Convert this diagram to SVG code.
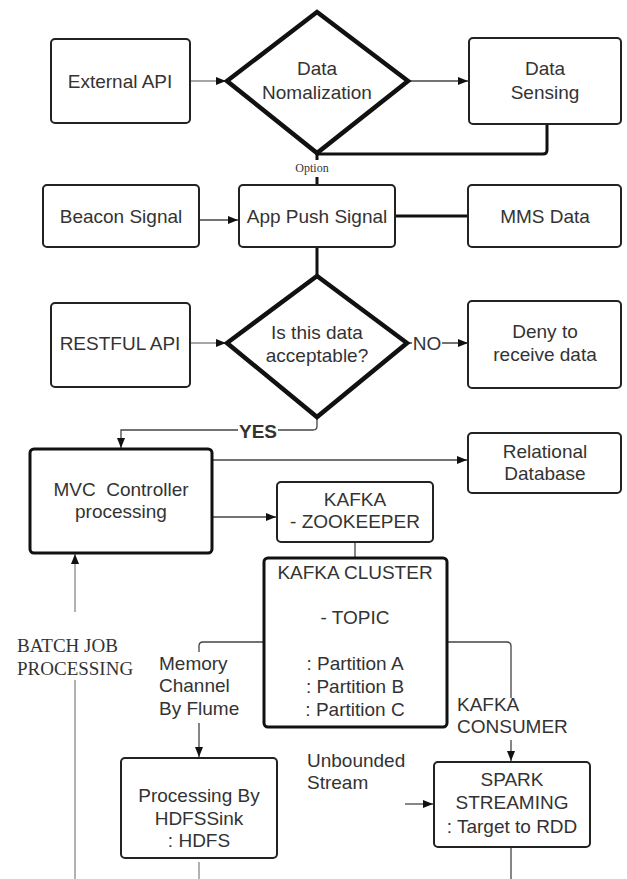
<svg xmlns="http://www.w3.org/2000/svg" width="627" height="879" viewBox="0 0 627 879">
<style>
.box{fill:#fff;stroke:#222;stroke-width:2}
.thick{fill:#fff;stroke:#111;stroke-width:3}
.dia{fill:#fff;stroke:#111;stroke-width:4.5;stroke-linejoin:miter}
.t{font-family:"Liberation Sans",Arial,sans-serif;font-size:19px;fill:#333;text-anchor:middle;dominant-baseline:central}
.tl{font-family:"Liberation Sans",Arial,sans-serif;font-size:19px;fill:#333;dominant-baseline:central}
.s{font-family:"Liberation Serif","Times New Roman",serif;fill:#333;dominant-baseline:central}
.c{fill:none;stroke:#444;stroke-width:1.3}
.cg{fill:none;stroke:#888;stroke-width:1.3}
.ct{fill:none;stroke:#111;stroke-width:3}
</style>
<defs>
<marker id="a" markerWidth="10" markerHeight="8" refX="10" refY="4" orient="auto" markerUnits="userSpaceOnUse">
<path d="M0,0 L10,4 L0,8 z" fill="#111"/>
</marker>
</defs>
<rect width="627" height="879" fill="#fff"/>
<g id="connectors">
<path class="cg" d="M190,81 H226" marker-end="url(#a)"/>
<path class="c" d="M408,81 H468" marker-end="url(#a)"/>
<path class="ct" d="M547,124 V150 Q547,154 543,154 H317"/>
<path class="ct" d="M317,153 V160 M317,177 V186"/>
<path class="c" d="M200,220 H238" marker-end="url(#a)"/>
<path class="ct" d="M395,216 H468"/>
<path class="ct" d="M317,247 V276"/>
<path class="cg" d="M190,343 H226" marker-end="url(#a)"/>
<path class="c" d="M407,343 H412 M442,343 H468" marker-end="url(#a)"/>
<path class="c" d="M317,417 V426 Q317,430 313,430 H278 M238,430 H121 V448" marker-end="url(#a)"/>
<path class="c" d="M212,460 H467" marker-end="url(#a)"/>
<path class="c" d="M212,517 H276" marker-end="url(#a)"/>
<path class="c" d="M355,542 V558"/>
<path class="cg" d="M75,612 V554" marker-end="url(#a)"/>
<path class="cg" d="M75,680 V879"/>
<path class="c" d="M264,642 H203 Q199,642 199,646 V652"/>
<path class="c" d="M199,723 V757" marker-end="url(#a)"/>
<path class="c" d="M447,642 H507 Q511,642 511,646 V698"/>
<path class="c" d="M511,740 V761" marker-end="url(#a)"/>
<path class="c" d="M405,804 H433" marker-end="url(#a)"/>
<path class="cg" d="M199,862 V879"/>
<path class="c" d="M511,847 V879"/>
</g>
<g id="external-api"><rect class="box" x="51" y="39" width="139" height="84" rx="4"/><text class="t" x="120" y="81">External API</text></g>
<g id="data-normalization"><path class="dia" d="M317,12 L408,81 L317,153 L227,81 Z"/><text class="t" x="317" y="68">Data</text><text class="t" x="317" y="92">Nomalization</text></g>
<g id="data-sensing"><rect class="box" x="469" y="38" width="152" height="86" rx="4"/><text class="t" x="545" y="68">Data</text><text class="t" x="545" y="92">Sensing</text></g>
<text class="s" x="312" y="168" font-size="12" text-anchor="middle">Option</text>
<g id="beacon-signal"><rect class="box" x="43" y="185" width="156" height="62" rx="4"/><text class="t" x="121" y="216">Beacon Signal</text></g>
<g id="app-push-signal"><rect class="box" x="239" y="185" width="156" height="62" rx="4"/><text class="t" x="317" y="216">App Push Signal</text></g>
<g id="mms-data"><rect class="box" x="468" y="185" width="153" height="62" rx="4"/><text class="t" x="545" y="216">MMS Data</text></g>
<g id="restful-api"><rect class="box" x="51" y="303" width="139" height="84" rx="4"/><text class="t" x="120" y="343">RESTFUL API</text></g>
<g id="acceptable"><path class="dia" d="M317,276 L407,343 L317,417 L227,343 Z"/><text class="t" x="317" y="332">Is this data</text><text class="t" x="317" y="355">acceptable?</text></g>
<text class="t" x="427" y="343">NO</text>
<g id="deny"><rect class="box" x="468" y="301" width="153" height="87" rx="4"/><text class="t" x="545" y="331">Deny to</text><text class="t" x="545" y="354">receive data</text></g>
<text class="t" x="258" y="431" font-weight="bold">YES</text>
<g id="mvc"><rect class="thick" x="30" y="449" width="182" height="104" rx="4"/><text class="t" x="121" y="489" xml:space="preserve">MVC  Controller</text><text class="t" x="121" y="511">processing</text></g>
<g id="relational-db"><rect class="box" x="468" y="433" width="153" height="60" rx="4"/><text class="t" x="545" y="451">Relational</text><text class="t" x="545" y="473">Database</text></g>
<g id="zookeeper"><rect class="box" x="277" y="482" width="156" height="60" rx="4"/><text class="t" x="355" y="499">KAFKA</text><text class="t" x="355" y="521">- ZOOKEEPER</text></g>
<g id="kafka-cluster"><rect class="thick" x="264" y="558" width="183" height="169" rx="4"/><text class="t" x="355" y="572">KAFKA CLUSTER</text><text class="t" x="355" y="617">- TOPIC</text><text class="t" x="355" y="663">: Partition A</text><text class="t" x="355" y="686">: Partition B</text><text class="t" x="355" y="709">: Partition C</text></g>
<text class="s" x="17" y="645" font-size="19">BATCH JOB</text>
<text class="s" x="17" y="668" font-size="19">PROCESSING</text>
<text class="tl" x="159" y="663">Memory</text>
<text class="tl" x="159" y="685">Channel</text>
<text class="tl" x="159" y="708">By Flume</text>
<text class="tl" x="457" y="704">KAFKA</text>
<text class="tl" x="457" y="726">CONSUMER</text>
<text class="tl" x="307" y="760">Unbounded</text>
<text class="tl" x="307" y="782">Stream</text>
<g id="hdfs"><rect class="box" x="121" y="758" width="156" height="100" rx="4"/><text class="t" x="199" y="795">Processing By</text><text class="t" x="199" y="818">HDFSSink</text><text class="t" x="199" y="840">: HDFS</text></g>
<g id="spark"><rect class="box" x="434" y="762" width="156" height="85" rx="4"/><text class="t" x="512" y="779">SPARK</text><text class="t" x="512" y="802">STREAMING</text><text class="t" x="512" y="826">: Target to RDD</text></g>
</svg>
